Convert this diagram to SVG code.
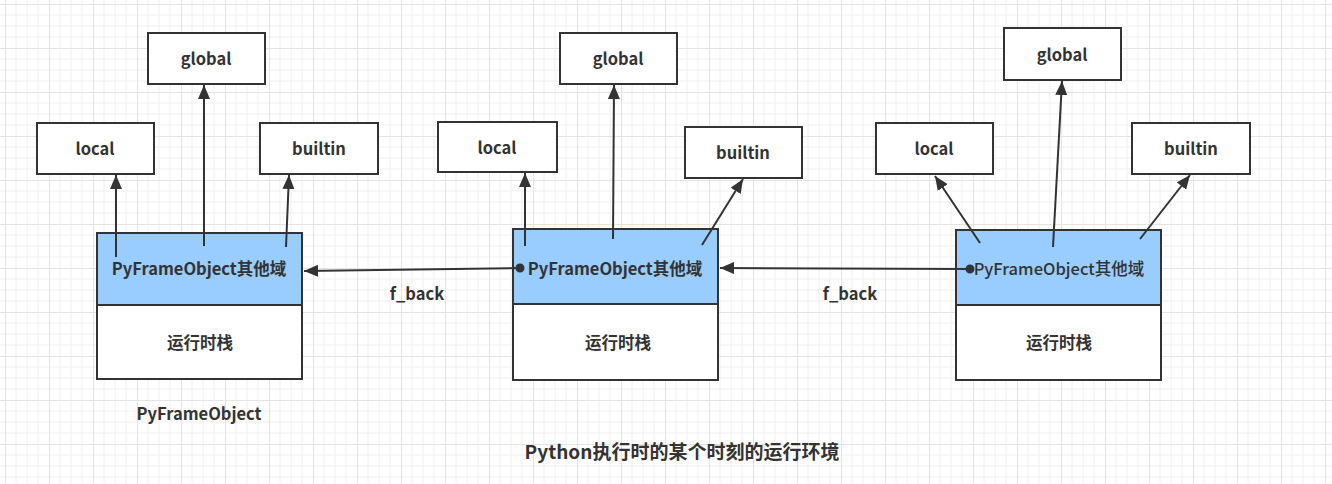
<svg xmlns="http://www.w3.org/2000/svg" width="1332" height="484" viewBox="0 0 1332 484">
<defs>
<pattern id="grid" x="5" y="4" width="44" height="44" patternUnits="userSpaceOnUse">
<path d="M11 0V44M22 0V44M33 0V44M0 11H44M0 22H44M0 33H44" stroke="#f0f0f0" stroke-width="1" fill="none"/>
<path d="M0.5 0V44M0 0.5H44" stroke="#e4e4e4" stroke-width="1" fill="none"/>
</pattern>
<marker id="arr" viewBox="0 0 14 12" refX="14" refY="6" markerWidth="14" markerHeight="12" markerUnits="userSpaceOnUse" orient="auto">
<path d="M0 0L14 6L0 12Z" fill="#333"/>
</marker>
<marker id="dot" viewBox="0 0 10 10" refX="5" refY="5" markerWidth="10" markerHeight="10" markerUnits="userSpaceOnUse" orient="auto">
<circle cx="5" cy="5" r="4.5" fill="#333"/>
</marker>
</defs>
<style>
.box{fill:#fff;stroke:#333;stroke-width:2}
.blue{fill:#99ccff;stroke:#333;stroke-width:2}
.t{font-family:"Noto Sans CJK SC","Noto Sans",sans-serif;font-weight:bold;font-size:16.5px;fill:#333;text-anchor:middle;dominant-baseline:central}
.c{stroke:#333;stroke-width:2;fill:none}
</style>
<rect width="1332" height="484" fill="#fff"/>
<rect width="1332" height="484" fill="url(#grid)"/>

<g id="frame1">
<rect class="blue" x="97" y="233" width="205" height="72"/>
<rect class="box" x="97" y="305" width="205" height="74"/>
<text class="t" x="199" y="268">PyFrameObject其他域</text>
<text class="t" x="200" y="342">运行时栈</text>
</g>
<g id="local1"><rect class="box" x="37" y="123" width="117" height="51"/><text class="t" x="95" y="148">local</text></g>
<g id="global1"><rect class="box" x="148" y="33" width="117" height="51"/><text class="t" x="206" y="58">global</text></g>
<g id="builtin1"><rect class="box" x="260" y="123" width="118" height="51"/><text class="t" x="319" y="148">builtin</text></g>

<g id="frame2">
<rect class="blue" x="513" y="229" width="205" height="75"/>
<rect class="box" x="513" y="304" width="205" height="76"/>
<text class="t" x="615" y="268">PyFrameObject其他域</text>
<text class="t" x="618" y="342">运行时栈</text>
</g>
<g id="local2"><rect class="box" x="438" y="122" width="119" height="50"/><text class="t" x="497" y="147">local</text></g>
<g id="global2"><rect class="box" x="560" y="33" width="117" height="51"/><text class="t" x="618" y="58">global</text></g>
<g id="builtin2"><rect class="box" x="685" y="127" width="117" height="51"/><text class="t" x="743" y="152">builtin</text></g>

<g id="frame3">
<rect class="blue" x="956" y="230" width="205" height="75"/>
<rect class="box" x="956" y="305" width="205" height="75"/>
<text class="t" x="1059" y="268" style="font-weight:500">PyFrameObject其他域</text>
<text class="t" x="1059" y="342">运行时栈</text>
</g>
<g id="local3"><rect class="box" x="876" y="123" width="117" height="51"/><text class="t" x="934" y="148">local</text></g>
<g id="global3"><rect class="box" x="1004" y="28" width="117" height="52"/><text class="t" x="1062" y="54">global</text></g>
<g id="builtin3"><rect class="box" x="1132" y="123" width="118" height="51"/><text class="t" x="1191" y="148">builtin</text></g>

<g id="connectors">
<path class="c" d="M116 257L116 175" marker-end="url(#arr)"/>
<path class="c" d="M204 246L204 85" marker-end="url(#arr)"/>
<path class="c" d="M286 247L289 175" marker-end="url(#arr)"/>
<path class="c" d="M525 246L525 173" marker-end="url(#arr)"/>
<path class="c" d="M613 239L614 85" marker-end="url(#arr)"/>
<path class="c" d="M702 245L743 179" marker-end="url(#arr)"/>
<path class="c" d="M980 243L935 176" marker-end="url(#arr)"/>
<path class="c" d="M1053 247L1062 81" marker-end="url(#arr)"/>
<path class="c" d="M1140 239L1190 175" marker-end="url(#arr)"/>
<path class="c" d="M520 268L304 271" marker-start="url(#dot)" marker-end="url(#arr)"/>
<path class="c" d="M970 269L720 268" marker-start="url(#dot)" marker-end="url(#arr)"/>
</g>
<g id="labels">
<text class="t" x="417" y="293">f_back</text>
<text class="t" x="850" y="293">f_back</text>
<text class="t" x="199" y="413">PyFrameObject</text>
<text class="t" x="682" y="450" style="font-size:19px">Python执行时的某个时刻的运行环境</text>
</g>
</svg>
